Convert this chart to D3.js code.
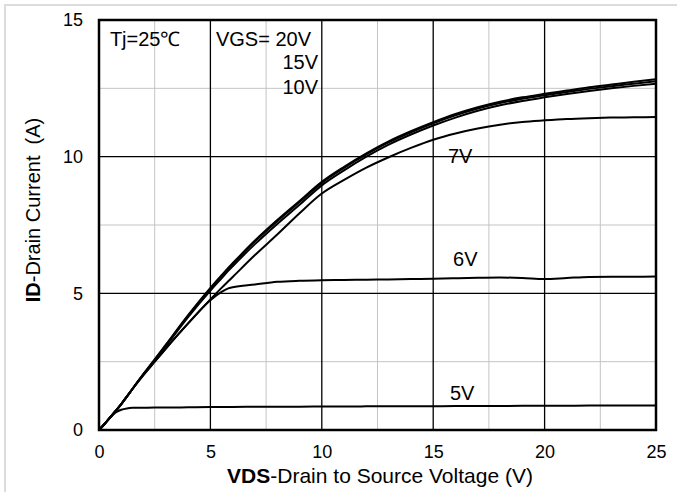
<!DOCTYPE html>
<html>
<head>
<meta charset="utf-8">
<script src="https://cdn.jsdelivr.net/npm/d3@7"></script>
<style>
  body { margin: 0; background: #fff; }
  text { font-family: "Liberation Sans", Arial, sans-serif; fill: #000; }
</style>
</head>
<body>
<div id="chart"></div>
<script>
// drain voltage samples (V) and drain current for each gate voltage (A)
const vds = [0, 0.25, 0.5, 0.75, 1, 1.25, 1.5, 2, 2.5, 3, 4, 5, 5.5, 5.8, 6, 7, 8, 9, 10, 11, 12, 13, 14, 15, 16, 17, 18, 19, 20, 21, 22, 23, 24, 25]
const id20 = [0, 0.22, 0.46, 0.7, 0.95, 1.22, 1.5, 2.05, 2.58, 3.12, 4.2, 5.2, 5.66, 5.93, 6.1, 6.93, 7.68, 8.38, 9.08, 9.63, 10.12, 10.56, 10.93, 11.26, 11.56, 11.81, 12.01, 12.17, 12.3, 12.42, 12.54, 12.64, 12.74, 12.83]
const id15 = [0, 0.22, 0.46, 0.7, 0.95, 1.22, 1.5, 2.05, 2.57, 3.1, 4.18, 5.17, 5.63, 5.9, 6.07, 6.9, 7.64, 8.34, 9.04, 9.59, 10.08, 10.52, 10.89, 11.22, 11.51, 11.76, 11.96, 12.12, 12.25, 12.37, 12.48, 12.58, 12.67, 12.76]
const id10 = [0, 0.22, 0.46, 0.7, 0.95, 1.22, 1.5, 2.04, 2.55, 3.07, 4.13, 5.1, 5.55, 5.82, 5.99, 6.8, 7.54, 8.24, 8.95, 9.5, 10.0, 10.44, 10.81, 11.14, 11.43, 11.68, 11.88, 12.04, 12.17, 12.29, 12.4, 12.5, 12.59, 12.67]
const id7 = [0, 0.22, 0.46, 0.7, 0.95, 1.22, 1.5, 2.02, 2.5, 2.98, 3.9, 4.78, 5.2, 5.44, 5.6, 6.4, 7.15, 7.93, 8.65, 9.15, 9.6, 9.98, 10.32, 10.62, 10.85, 11.03, 11.17, 11.27, 11.33, 11.38, 11.41, 11.43, 11.44, 11.45]
const id6 = [0, 0.22, 0.46, 0.7, 0.95, 1.22, 1.5, 2.02, 2.5, 2.98, 3.9, 4.75, 5.05, 5.18, 5.22, 5.32, 5.42, 5.46, 5.48, 5.49, 5.5, 5.51, 5.52, 5.53, 5.55, 5.57, 5.58, 5.56, 5.52, 5.56, 5.6, 5.61, 5.61, 5.62]
const id5 = [0, 0.23, 0.46, 0.64, 0.74, 0.79, 0.81, 0.815, 0.82, 0.82, 0.83, 0.84, 0.84, 0.84, 0.845, 0.85, 0.85, 0.855, 0.86, 0.86, 0.865, 0.865, 0.87, 0.87, 0.875, 0.88, 0.88, 0.885, 0.89, 0.89, 0.895, 0.9, 0.9, 0.9]

const series = [id20, id15, id10, id7, id6, id5]
const xTicks = [0, 5, 10, 15, 20, 25]
const yTicks = [0, 5, 10, 15]
const xMinor = [2.5, 7.5, 12.5, 17.5, 22.5]
const yMinor = [2.5, 7.5, 12.5]
const xMajor = [5, 10, 15, 20]
const yMajor = [5, 10]
const curveLabels = ['7V', '6V', '5V']

let width = 677,
    height = 492

let svg = d3.select('#chart')
    .append('svg')
    .attr('width', width)
    .attr('height', height)

//scales
let x = d3.scaleLinear().domain([0, 25]).range([99, 656])
let y = d3.scaleLinear().domain([0, 15]).range([430, 20])

//light outer frame
svg.append('rect')
    .attr('x', 5).attr('y', 5)
    .attr('width', 720).attr('height', 520)
    .style('fill', 'none')
    .style('stroke', '#dcdcdc')
    .style('stroke-width', 2)

//minor grid
svg.selectAll('.minor-x').data(xMinor).enter().append('line')
    .attr('x1', d => x(d)).attr('x2', d => x(d))
    .attr('y1', y(0)).attr('y2', y(15))
    .style('stroke', '#c4c4c4').style('stroke-width', 1)
svg.selectAll('.minor-y').data(yMinor).enter().append('line')
    .attr('x1', x(0)).attr('x2', x(25))
    .attr('y1', d => y(d)).attr('y2', d => y(d))
    .style('stroke', '#c4c4c4').style('stroke-width', 1)

//major grid
svg.selectAll('.major-x').data(xMajor).enter().append('line')
    .attr('x1', d => x(d)).attr('x2', d => x(d))
    .attr('y1', y(0)).attr('y2', y(15))
    .style('stroke', '#000').style('stroke-width', 1.3)
svg.selectAll('.major-y').data(yMajor).enter().append('line')
    .attr('x1', x(0)).attr('x2', x(25))
    .attr('y1', d => y(d)).attr('y2', d => y(d))
    .style('stroke', '#000').style('stroke-width', 1.3)

//curves
let line = d3.line()
    .x((d, i) => x(vds[i]))
    .y(d => y(d))
    .curve(d3.curveMonotoneX)

svg.selectAll('.curve').data(series).enter().append('path')
    .attr('d', line)
    .style('fill', 'none')
    .style('stroke', '#000')
    .style('stroke-width', 2)

//plot border
svg.append('rect')
    .attr('x', x(0)).attr('y', y(15))
    .attr('width', x(25) - x(0)).attr('height', y(0) - y(15))
    .style('fill', 'none')
    .style('stroke', '#000')
    .style('stroke-width', 2.5)

//axes
let xAxis = svg.append('g')
    .attr('transform', `translate(0,${y(0)})`)
    .call(d3.axisBottom(x).tickValues(xTicks).tickSize(0).tickPadding(15).tickFormat(d3.format('d')))
xAxis.select('.domain').remove()

let yAxis = svg.append('g')
    .attr('transform', `translate(${x(0)},0)`)
    .call(d3.axisLeft(y).tickValues(yTicks).tickSize(0).tickPadding(16).tickFormat(d3.format('d')))
yAxis.select('.domain').remove()

svg.selectAll('.tick text')
    .style('font-family', '"Liberation Sans", Arial, sans-serif')
    .style('font-size', '18px')
    .attr('fill', '#000')

//axis titles
let xTitle = svg.append('text')
    .attr('x', 380).attr('y', 483)
    .attr('text-anchor', 'middle')
    .style('font-size', '21px')
xTitle.append('tspan').style('font-weight', 'bold').text('VDS')
xTitle.append('tspan').text('-Drain to Source Voltage (V)')

let yTitle = svg.append('text')
    .attr('transform', 'translate(40,210) rotate(-90)')
    .attr('text-anchor', 'middle')
    .style('font-size', '20px')
yTitle.append('tspan').style('font-weight', 'bold').text('ID')
yTitle.append('tspan').text('-Drain Current\u00a0\u00a0(A)')

//annotations
svg.append('text').attr('x', x(0.49)).attr('y', y(14.05))
    .style('font-size', '20px').text('Tj=25℃')
svg.append('text').attr('x', x(5.25)).attr('y', y(14.05))
    .style('font-size', '20px').text('VGS= 20V')
svg.append('text').attr('x', x(9.83)).attr('y', y(13.2))
    .attr('text-anchor', 'end').style('font-size', '20px').text('15V')
svg.append('text').attr('x', x(9.83)).attr('y', y(12.28))
    .attr('text-anchor', 'end').style('font-size', '20px').text('10V')

svg.append('text').attr('x', x(15.66)).attr('y', y(9.77))
    .style('font-size', '20px').text(curveLabels[0])
svg.append('text').attr('x', x(15.89)).attr('y', y(6.0))
    .style('font-size', '20px').text(curveLabels[1])
svg.append('text').attr('x', x(15.75)).attr('y', y(1.1))
    .style('font-size', '20px').text(curveLabels[2])
</script>
</body>
</html>
